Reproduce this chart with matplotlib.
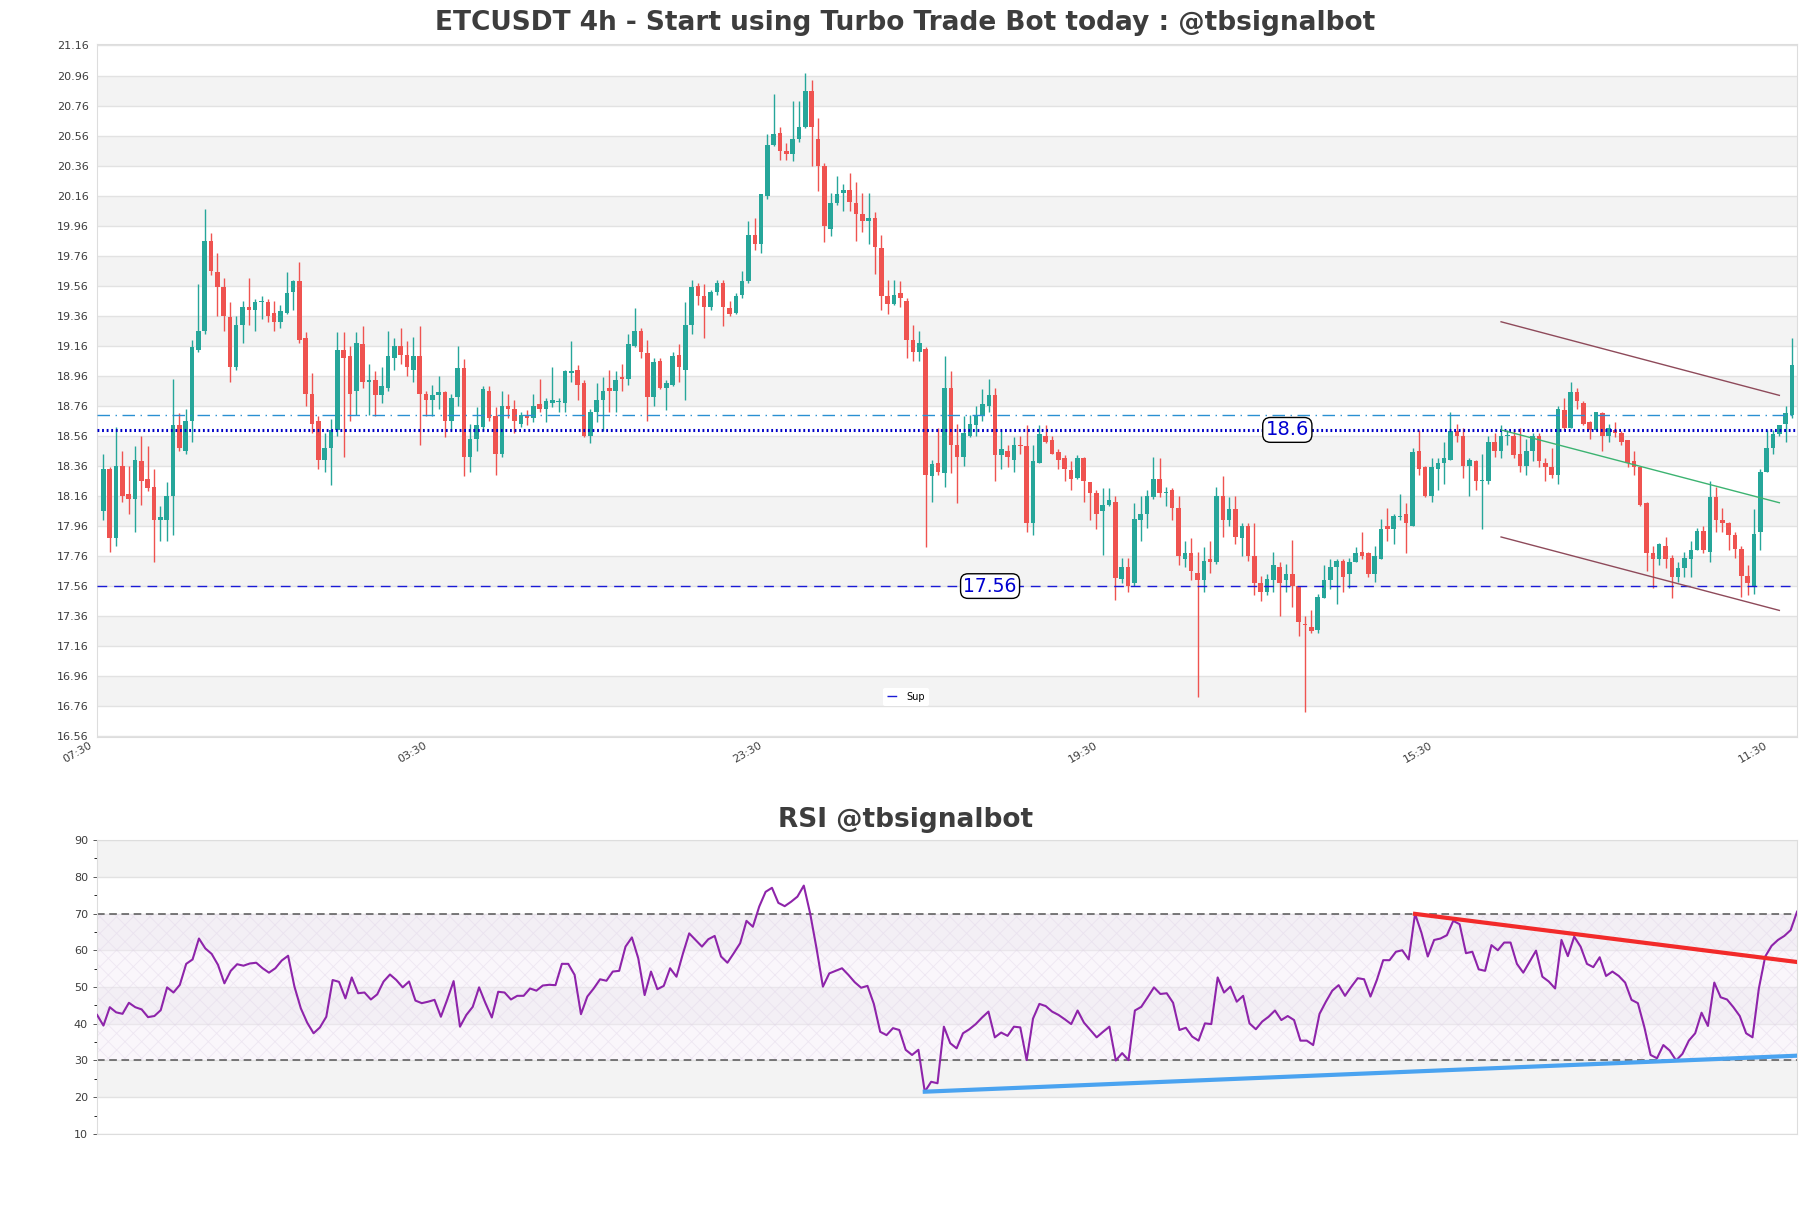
import numpy as np
import matplotlib
matplotlib.use('Agg')
import matplotlib.pyplot as plt
from matplotlib.transforms import ScaledTranslation

plt.rcParams['font.family'] = ['DejaVu Sans']
plt.rcParams['hatch.linewidth'] = 0.6

# 4h candles, oldest first
opens = [18.06, 18.34, 17.88, 18.36, 18.17, 18.14, 18.39, 18.27, 18.22, 18.00,
         18.00, 18.16, 18.63, 18.46, 18.66, 19.13, 19.26, 19.86, 19.65, 19.55,
         19.35, 19.02, 19.30, 19.42, 19.40, 19.455, 19.45, 19.38, 19.32, 19.38,
         19.52, 19.59, 19.21, 18.84, 18.66, 18.40, 18.48, 18.60, 19.13, 19.09,
         18.86, 19.17, 18.92, 18.93, 18.83, 18.88, 19.08, 19.16, 19.10, 19.00,
         19.09, 18.84, 18.80, 18.83, 18.85, 18.66, 18.82, 19.01, 18.42, 18.54,
         18.62, 18.86, 18.69, 18.44, 18.76, 18.74, 18.64, 18.70, 18.68, 18.77,
         18.74, 18.78, 18.785, 18.78, 18.98, 19.00, 18.91, 18.56, 18.72, 18.80,
         18.88, 18.86, 18.95, 18.94, 19.16, 19.26, 19.11, 18.82, 19.06, 18.88,
         18.90, 19.10, 19.00, 19.30, 19.56, 19.49, 19.42, 19.52, 19.58, 19.41,
         19.38, 19.50, 19.59, 19.90, 19.84, 20.16, 20.50, 20.58, 20.46, 20.44,
         20.54, 20.62, 20.86, 20.54, 20.36, 19.94, 20.11, 20.18, 20.20, 20.11,
         20.04, 19.99, 20.01, 19.81, 19.49, 19.44, 19.51, 19.46, 19.20, 19.12,
         19.14, 18.29, 18.38, 18.31, 18.88, 18.50, 18.42, 18.56, 18.63, 18.69,
         18.76, 18.83, 18.43, 18.46, 18.40, 18.50, 18.49, 17.98, 18.38, 18.56,
         18.53, 18.45, 18.41, 18.335, 18.28, 18.41, 18.25, 18.18, 18.06, 18.10,
         18.12, 17.61, 17.69, 17.58, 18.00, 18.04, 18.15, 18.27, 18.18, 18.20,
         18.08, 17.74, 17.78, 17.65, 17.60, 17.74, 17.72, 18.16, 18.00, 18.07,
         17.88, 17.96, 17.76, 17.58, 17.52, 17.60, 17.69, 17.60, 17.64, 17.56,
         17.31, 17.29, 17.27, 17.48, 17.60, 17.69, 17.73, 17.64, 17.72, 17.79,
         17.78, 17.64, 17.74, 17.96, 17.94, 18.02, 18.04, 17.96, 18.46, 18.35,
         18.16, 18.34, 18.38, 18.40, 18.59, 18.56, 18.36, 18.39, 18.26, 18.26,
         18.52, 18.46, 18.558, 18.56, 18.44, 18.36, 18.46, 18.56, 18.38, 18.35,
         18.30, 18.73, 18.61, 18.85, 18.78, 18.65, 18.60, 18.71, 18.56, 18.60,
         18.58, 18.53, 18.39, 18.35, 18.11, 17.78, 17.74, 17.83, 17.75, 17.62,
         17.68, 17.74, 17.80, 17.93, 17.79, 18.15, 18.00, 17.98, 17.90, 17.81,
         17.63, 17.56, 17.92, 18.32, 18.48, 18.57, 18.64, 18.70]
highs = [18.44, 18.35, 18.62, 18.46, 18.36, 18.49, 18.56, 18.49, 18.34, 18.09,
         18.25, 18.94, 18.71, 18.74, 19.20, 19.57, 20.07, 19.91, 19.78, 19.61,
         19.45, 19.36, 19.46, 19.61, 19.47, 19.49, 19.47, 19.46, 19.43, 19.65,
         19.60, 19.72, 19.25, 18.98, 18.69, 18.58, 18.67, 19.25, 19.25, 19.16,
         19.25, 19.29, 19.04, 18.99, 19.02, 19.26, 19.21, 19.28, 19.19, 19.22,
         19.29, 18.86, 18.90, 18.96, 18.86, 18.84, 19.16, 19.07, 18.64, 18.75,
         18.89, 18.89, 18.75, 18.86, 18.84, 18.80, 18.72, 18.73, 18.84, 18.94,
         18.81, 19.02, 18.81, 19.00, 19.19, 19.03, 18.93, 18.74, 18.91, 18.95,
         19.00, 18.99, 19.04, 19.24, 19.41, 19.28, 19.20, 19.08, 19.08, 18.93,
         19.12, 19.17, 19.45, 19.60, 19.58, 19.57, 19.53, 19.60, 19.60, 19.46,
         19.51, 19.66, 19.99, 20.01, 20.17, 20.57, 20.84, 20.62, 20.51, 20.79,
         20.79, 20.98, 20.93, 20.68, 20.38, 20.18, 20.29, 20.24, 20.31, 20.25,
         20.18, 20.18, 20.05, 19.90, 19.60, 19.60, 19.59, 19.48, 19.30, 19.26,
         19.15, 18.40, 18.61, 19.09, 18.99, 18.64, 18.69, 18.70, 18.76, 18.87,
         18.94, 18.88, 18.59, 18.50, 18.55, 18.56, 18.63, 18.50, 18.63, 18.63,
         18.56, 18.47, 18.43, 18.39, 18.43, 18.42, 18.25, 18.20, 18.21, 18.21,
         18.16, 17.75, 17.75, 18.11, 18.16, 18.20, 18.42, 18.41, 18.22, 18.21,
         18.16, 17.86, 17.88, 17.79, 17.82, 17.86, 18.22, 18.29, 18.15, 18.16,
         17.98, 17.98, 17.98, 17.63, 17.64, 17.79, 17.72, 17.71, 17.87, 17.56,
         17.36, 17.40, 17.51, 17.70, 17.74, 17.74, 17.74, 17.75, 17.82, 17.92,
         17.79, 17.83, 18.01, 18.08, 18.04, 18.17, 18.11, 18.48, 18.60, 18.36,
         18.41, 18.41, 18.52, 18.72, 18.64, 18.61, 18.41, 18.40, 18.44, 18.56,
         18.58, 18.63, 18.60, 18.60, 18.61, 18.54, 18.58, 18.58, 18.41, 18.48,
         18.76, 18.81, 18.92, 18.88, 18.79, 18.66, 18.72, 18.72, 18.64, 18.65,
         18.59, 18.53, 18.46, 18.36, 18.12, 17.83, 17.85, 17.89, 17.77, 17.72,
         17.79, 17.86, 17.95, 17.96, 18.26, 18.22, 18.08, 17.99, 17.92, 17.83,
         17.70, 18.07, 18.34, 18.60, 18.60, 18.63, 18.76, 19.21]
lows = [18.00, 17.79, 17.83, 18.12, 18.04, 17.92, 18.10, 18.19, 17.72, 17.86,
        17.86, 17.90, 18.46, 18.44, 18.52, 19.12, 19.24, 19.63, 19.36, 19.26,
        18.92, 19.00, 19.18, 19.30, 19.26, 19.34, 19.32, 19.26, 19.28, 19.37,
        19.40, 19.18, 18.76, 18.58, 18.34, 18.32, 18.23, 18.56, 18.42, 18.66,
        18.70, 18.88, 18.70, 18.69, 18.78, 18.86, 19.00, 19.04, 18.96, 18.92,
        18.50, 18.69, 18.69, 18.74, 18.55, 18.60, 18.76, 18.29, 18.32, 18.46,
        18.60, 18.66, 18.30, 18.42, 18.68, 18.58, 18.62, 18.63, 18.65, 18.72,
        18.65, 18.75, 18.72, 18.72, 18.92, 18.80, 18.55, 18.51, 18.65, 18.59,
        18.72, 18.72, 18.86, 18.90, 19.15, 19.08, 18.66, 18.76, 18.87, 18.73,
        18.89, 18.92, 18.80, 19.24, 19.43, 19.21, 19.40, 19.50, 19.29, 19.36,
        19.37, 19.48, 19.58, 19.80, 19.78, 20.14, 20.49, 20.40, 20.40, 20.39,
        20.52, 20.61, 20.36, 20.19, 19.85, 19.89, 20.10, 20.06, 20.06, 19.86,
        19.92, 19.84, 19.64, 19.40, 19.37, 19.43, 19.42, 19.08, 19.06, 19.06,
        17.82, 18.12, 18.30, 18.22, 18.31, 18.11, 18.36, 18.55, 18.56, 18.66,
        18.72, 18.26, 18.34, 18.35, 18.32, 18.44, 17.92, 17.90, 18.38, 18.51,
        18.44, 18.34, 18.26, 18.20, 18.27, 18.12, 18.00, 17.94, 17.77, 18.09,
        17.47, 17.58, 17.52, 17.56, 17.86, 17.95, 18.14, 18.15, 18.09, 18.00,
        17.70, 17.69, 17.60, 16.82, 17.52, 17.65, 17.71, 17.89, 17.96, 17.84,
        17.76, 17.73, 17.50, 17.46, 17.50, 17.52, 17.36, 17.52, 17.42, 17.23,
        16.72, 17.25, 17.25, 17.48, 17.54, 17.44, 17.52, 17.55, 17.72, 17.74,
        17.62, 17.59, 17.74, 17.86, 17.84, 18.00, 17.78, 17.96, 18.30, 18.15,
        18.12, 18.20, 18.24, 18.40, 18.52, 18.28, 18.16, 18.20, 17.94, 18.24,
        18.42, 18.41, 18.50, 18.41, 18.32, 18.30, 18.39, 18.35, 18.26, 18.28,
        18.24, 18.60, 18.61, 18.74, 18.63, 18.54, 18.59, 18.46, 18.52, 18.55,
        18.50, 18.35, 18.30, 18.09, 17.66, 17.55, 17.70, 17.68, 17.48, 17.59,
        17.62, 17.62, 17.80, 17.78, 17.72, 17.92, 17.92, 17.80, 17.75, 17.49,
        17.50, 17.51, 17.80, 18.32, 18.44, 18.56, 18.52, 18.68]
closes = [18.34, 17.88, 18.36, 18.16, 18.14, 18.40, 18.26, 18.21, 18.00, 18.02,
          18.16, 18.63, 18.48, 18.66, 19.15, 19.26, 19.86, 19.66, 19.55, 19.36,
          19.02, 19.30, 19.42, 19.40, 19.45, 19.46, 19.36, 19.32, 19.39, 19.51,
          19.59, 19.20, 18.84, 18.64, 18.40, 18.48, 18.60, 19.13, 19.08, 18.84,
          19.18, 18.92, 18.93, 18.83, 18.89, 19.09, 19.16, 19.10, 19.02, 19.09,
          18.84, 18.80, 18.83, 18.85, 18.66, 18.81, 19.01, 18.42, 18.54, 18.63,
          18.87, 18.68, 18.44, 18.76, 18.74, 18.66, 18.70, 18.68, 18.76, 18.74,
          18.79, 18.80, 18.79, 18.99, 18.99, 18.90, 18.56, 18.72, 18.80, 18.86,
          18.86, 18.93, 18.94, 19.17, 19.26, 19.12, 18.82, 19.05, 18.88, 18.91,
          19.09, 19.02, 19.30, 19.55, 19.49, 19.42, 19.52, 19.58, 19.42, 19.37,
          19.49, 19.59, 19.90, 19.84, 20.17, 20.50, 20.57, 20.46, 20.44, 20.54,
          20.62, 20.86, 20.62, 20.36, 19.96, 20.11, 20.17, 20.20, 20.12, 20.04,
          19.99, 20.01, 19.82, 19.49, 19.44, 19.50, 19.48, 19.20, 19.12, 19.18,
          18.30, 18.37, 18.32, 18.88, 18.50, 18.42, 18.58, 18.64, 18.69, 18.77,
          18.83, 18.43, 18.47, 18.42, 18.50, 18.49, 17.98, 18.39, 18.57, 18.52,
          18.44, 18.40, 18.34, 18.27, 18.41, 18.26, 18.18, 18.04, 18.10, 18.13,
          17.615, 17.69, 17.56, 18.01, 18.04, 18.16, 18.27, 18.18, 18.185, 18.08,
          17.76, 17.78, 17.66, 17.60, 17.73, 17.72, 18.16, 18.00, 18.07, 17.89,
          17.96, 17.76, 17.58, 17.52, 17.61, 17.70, 17.58, 17.64, 17.56, 17.32,
          17.30, 17.26, 17.49, 17.60, 17.69, 17.73, 17.62, 17.72, 17.78, 17.76,
          17.64, 17.76, 17.94, 17.94, 18.03, 18.03, 17.98, 18.45, 18.34, 18.16,
          18.35, 18.38, 18.41, 18.59, 18.56, 18.36, 18.40, 18.26, 18.265, 18.52,
          18.46, 18.56, 18.562, 18.43, 18.36, 18.46, 18.56, 18.39, 18.35, 18.30,
          18.74, 18.61, 18.85, 18.79, 18.64, 18.60, 18.72, 18.56, 18.61, 18.58,
          18.52, 18.38, 18.35, 18.10, 17.78, 17.74, 17.84, 17.74, 17.62, 17.68,
          17.75, 17.80, 17.93, 17.80, 18.15, 18.00, 17.98, 17.90, 17.81, 17.63,
          17.58, 17.91, 18.32, 18.48, 18.57, 18.63, 18.71, 19.03]

rsi = [42.4, 39.5, 44.5, 43.1, 42.7, 45.7, 44.5, 43.9, 41.8, 42.1,
       43.7, 49.9, 48.5, 50.6, 56.3, 57.5, 63.2, 60.5, 59.0, 56.0,
       51.0, 54.4, 56.2, 55.8, 56.4, 56.6, 55.1, 53.9, 55.1, 57.2,
       58.5, 50.1, 44.2, 40.3, 37.4, 39.0, 41.9, 51.9, 51.4, 46.9,
       52.6, 48.3, 48.5, 46.6, 48.0, 51.5, 53.4, 51.9, 49.9, 51.5,
       46.3, 45.6, 46.0, 46.5, 41.9, 46.6, 51.6, 39.2, 42.4, 44.6,
       49.9, 45.6, 41.7, 48.7, 48.5, 46.6, 47.6, 47.6, 49.6, 49.0,
       50.4, 50.6, 50.5, 56.3, 56.3, 53.3, 42.6, 47.4, 49.6, 52.1,
       51.7, 54.2, 54.4, 61.0, 63.5, 57.8, 47.8, 54.2, 49.4, 50.3,
       55.1, 52.8, 59.0, 64.6, 62.8, 61.0, 63.0, 63.9, 58.3, 56.6,
       59.2, 61.9, 68.0, 66.4, 71.9, 75.9, 77.0, 72.9, 72.0, 73.2,
       74.6, 77.6, 70.0, 60.5, 50.1, 53.7, 54.4, 55.1, 53.3, 51.3,
       49.8, 50.3, 45.4, 37.8, 36.9, 38.8, 38.3, 32.9, 31.5, 32.9,
       21.5, 24.2, 23.8, 39.2, 34.7, 33.3, 37.4, 38.5, 39.9, 41.7,
       43.3, 36.3, 37.6, 36.7, 39.2, 39.0, 30.1, 41.4, 45.4, 44.8,
       43.3, 42.4, 41.2, 39.9, 43.6, 40.3, 38.3, 36.3, 37.8, 39.2,
       30.0, 32.0, 30.1, 43.6, 44.6, 47.2, 49.9, 48.1, 48.3, 45.7,
       38.3, 38.9, 36.5, 35.4, 40.1, 39.9, 52.6, 48.5, 50.1, 46.0,
       47.6, 40.1, 38.5, 40.6, 41.9, 43.6, 41.0, 42.1, 41.0, 35.4,
       35.4, 34.2, 42.7, 46.0, 49.0, 50.5, 47.6, 50.1, 52.4, 52.1,
       47.4, 51.9, 57.3, 57.3, 59.6, 60.0, 57.5, 69.9, 64.8, 58.3,
       62.8, 63.2, 64.1, 68.0, 67.1, 59.2, 59.6, 54.8, 54.4, 61.4,
       60.0, 62.1, 62.1, 56.3, 53.9, 56.9, 59.9, 52.8, 51.5, 49.6,
       62.8, 58.4, 63.7, 61.0, 56.3, 55.4, 58.1, 53.0, 54.2, 53.0,
       51.2, 46.5, 45.6, 39.2, 31.5, 30.6, 34.2, 32.7, 30.0, 31.8,
       35.4, 37.4, 43.0, 39.4, 51.2, 47.2, 46.6, 44.5, 42.1, 37.4,
       36.3, 49.6, 58.3, 61.2, 62.8, 63.9, 65.5, 70.5]

tick_pos = [0, 53, 106, 159, 212, 265]
tick_labels = ['07:30', '03:30', '23:30', '19:30', '15:30', '11:30']

sup_level = 17.56
mid_level = 18.6
dash_level = 18.70

# channel (x0, x1) and (y0, y1) for upper, middle, lower
chan_x = [221, 265]
chan_upper = [19.32, 18.83]
chan_mid = [18.60, 18.115]
chan_lower = [17.887, 17.398]

# RSI trend lines
rsi_res_x = [207, 267]
rsi_res_y = [69.9, 56.8]
rsi_sup_x = [130, 267]
rsi_sup_y = [21.5, 31.3]

UP = '#26a69a'
DOWN = '#ef5350'
TXT = '#3d3d3d'


def candles(ax):
    o = np.array(opens)
    h = np.array(highs)
    l = np.array(lows)
    c = np.array(closes)
    x = np.arange(len(o))
    col = np.where(c >= o, UP, DOWN)
    ax.vlines(x, l, h, colors=col, linewidth=1.0, zorder=2)
    body = np.maximum(np.abs(c - o), 0.006)
    ax.bar(x, body, bottom=np.minimum(o, c), width=0.72, color=col,
           linewidth=0, zorder=2)


def main():
    fig = plt.figure(figsize=(18.11, 12.08), dpi=100)
    ax = fig.add_axes([0.0536, 0.3899, 0.9387, 0.5737])
    ax2 = fig.add_axes([0.0536, 0.0613, 0.9387, 0.2433])

    # price panel
    yt = np.round(np.arange(16.56, 21.17, 0.2), 2)
    for k in range(len(yt) - 1):
        if k % 2 == 1:
            ax.axhspan(yt[k], yt[k + 1], color='#f3f3f3', zorder=0, lw=0)
    for v in yt:
        ax.axhline(v, color='#e2e2e2', lw=1.0, zorder=0.5)

    candles(ax)

    ax.axhline(dash_level, color='#2a90d2', lw=1.0, ls=(0, (9, 4, 1, 4)), zorder=3)
    ax.axhline(mid_level, color='#0000c8', lw=2.2, ls=(0, (0.6, 0.9)), zorder=3)
    ax.axhline(sup_level, color='#1a1ad6', lw=1.0, ls=(0, (7, 5)), zorder=3,
               label='Sup')

    box = dict(boxstyle='round,pad=0.15,rounding_size=0.4', fc='white',
               ec='black', lw=1)
    ax.text(187.2, mid_level, '18.6', color='#0000d0', fontsize=14,
            ha='center', va='center', bbox=box, zorder=5)
    ax.text(140.2, sup_level, '17.56', color='#0000d0', fontsize=13.5,
            ha='center', va='center', bbox=box, zorder=5)

    ax.plot(chan_x, chan_upper, color='#8e4a5a', lw=1.0, zorder=3)
    ax.plot(chan_x, chan_lower, color='#8e4a5a', lw=1.0, zorder=3)
    ax.plot(chan_x, chan_mid, color='#3cb371', lw=1.0, zorder=3)

    leg = ax.legend(loc='center', bbox_to_anchor=(0.476, 0.058), fontsize=7,
                    frameon=True, framealpha=1, edgecolor='none',
                    handlelength=1.2)
    leg.get_frame().set_facecolor('white')

    ax.set_xlim(-1.0, 267.8)
    ax.set_ylim(16.555, 21.17)
    ax.set_yticks(yt)
    ax.set_yticklabels(['%.2f' % v for v in yt])
    ax.set_xticks(tick_pos)
    ax.set_xticklabels(tick_labels, rotation=30, ha='right')
    ax.tick_params(axis='both', labelsize=8, colors=TXT, length=0, pad=6)
    shift = ScaledTranslation(-0.1, 0.05, fig.dpi_scale_trans)
    for lab in ax.get_xticklabels():
        lab.set_transform(lab.get_transform() + shift)
    for s in ax.spines.values():
        s.set_color('#dddddd')

    # RSI panel
    for lo in (20, 40, 60, 80):
        ax2.axhspan(lo, lo + 10, color='#f3f3f3', zorder=0, lw=0)
    for v in range(10, 91, 10):
        ax2.axhline(v, color='#e2e2e2', lw=1.0, zorder=0.5)
    ax2.fill_between([0, len(rsi) - 1], 30, 70, facecolor='#f4ecf8',
                     alpha=0.45, hatch='xx', edgecolor='#e0d4e8', lw=0,
                     zorder=0.7)
    ax2.axhline(70, color='#555555', lw=1.1, ls=(0, (5, 3)), zorder=2)
    ax2.axhline(30, color='#555555', lw=1.1, ls=(0, (5, 3)), zorder=2)
    ax2.plot(np.arange(len(rsi)), rsi, color='#8e24aa', lw=1.5, zorder=3)
    ax2.plot(rsi_res_x, rsi_res_y, color='#f22a2a', lw=3, zorder=4)
    ax2.plot(rsi_sup_x, rsi_sup_y, color='#4aa3f0', lw=3, zorder=4)

    ax2.set_xlim(0, len(rsi) - 1)
    ax2.set_ylim(10, 90)
    ax2.set_yticks(range(10, 91, 10))
    ax2.set_yticks(range(15, 90, 10), minor=True)
    ax2.set_xticks([])
    ax2.tick_params(axis='y', labelsize=8, colors=TXT, length=3, width=0.6)
    ax2.tick_params(axis='y', which='minor', length=2, width=0.6)
    for s in ax2.spines.values():
        s.set_color('#dddddd')

    fig.text(0.5, 0.981, 'ETCUSDT 4h - Start using Turbo Trade Bot today : @tbsignalbot',
             ha='center', va='center', fontsize=19, fontweight='bold', color=TXT)
    fig.text(0.5, 0.321, 'RSI @tbsignalbot', ha='center', va='center',
             fontsize=19, fontweight='bold', color=TXT)

    return fig


if __name__ == '__main__':
    f = main()
    f.savefig('out.png', dpi=100)
